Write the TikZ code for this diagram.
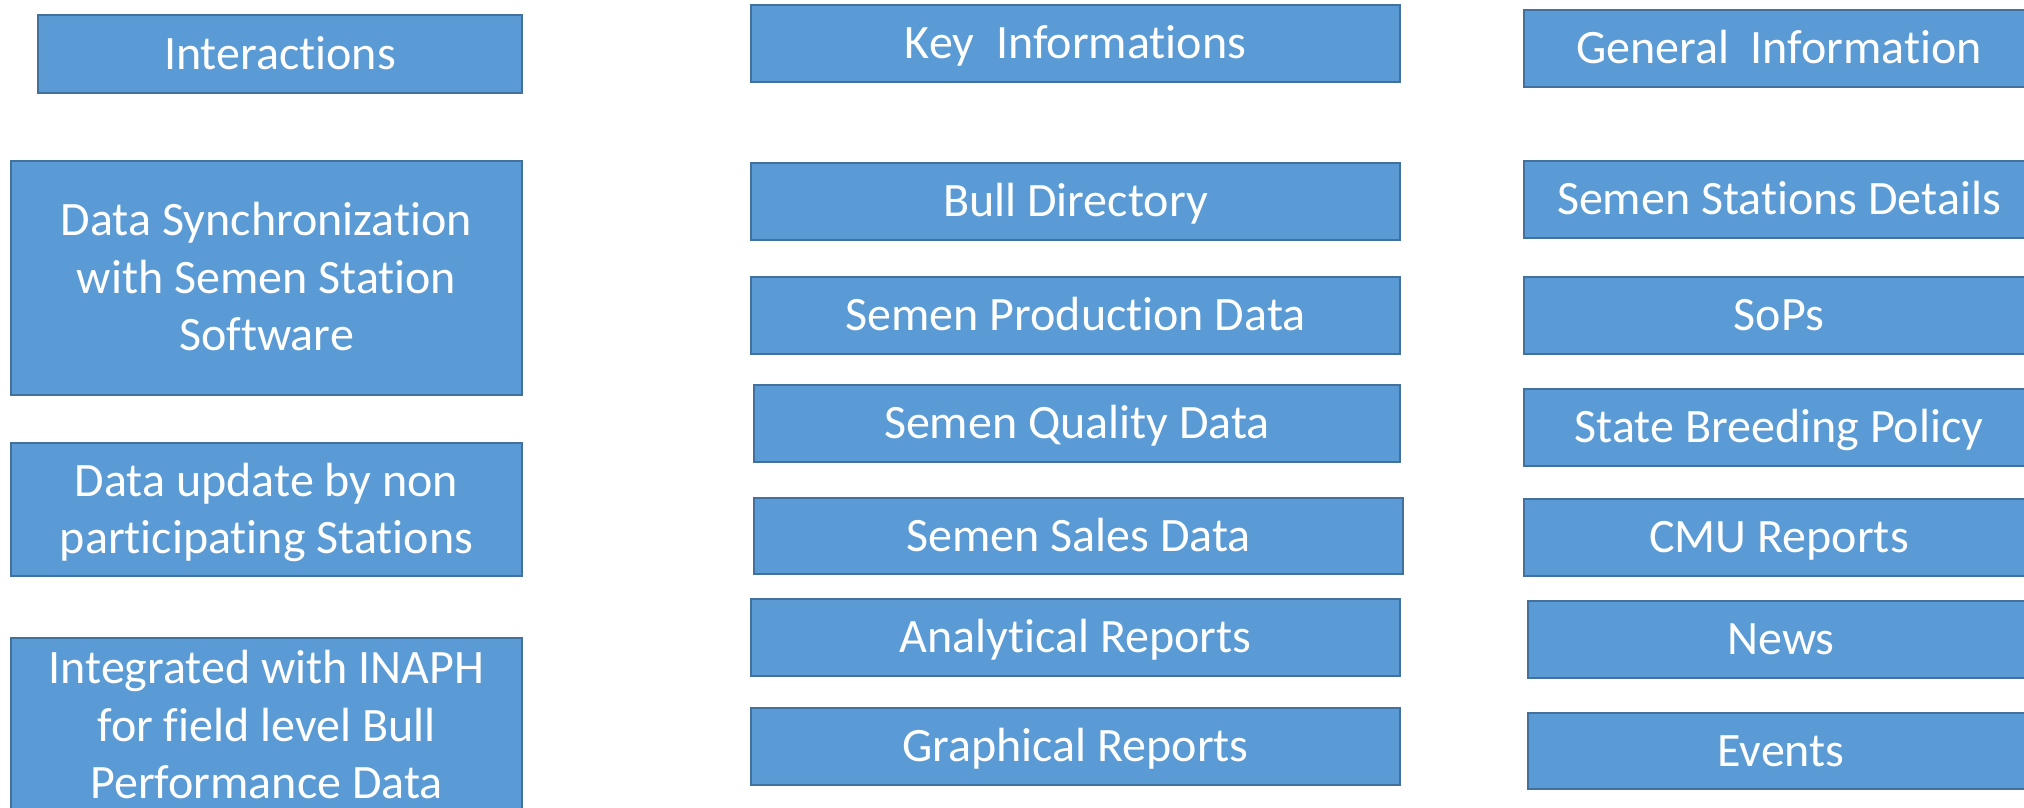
\documentclass[tikz,border=0pt]{standalone}
\usepackage{fontspec}
\setmainfont{Carlito}[Ligatures={NoCommon}]
\definecolor{boxfill}{HTML}{5B9BD5}
\definecolor{boxline}{HTML}{41719C}
\tikzset{
  box/.style={draw=boxline, line width=2.5pt, fill=boxfill, rectangle, inner sep=0pt,
    text=white, text height=30.5pt, text depth=0pt,
    font=\fontsize{48}{57.5}\selectfont},
  two/.style={text depth=57.5pt},
  three/.style={text depth=115pt},
}
\newcommand{\mlines}[1]{\begin{tabular}[t]{@{}c@{}}#1\end{tabular}}
\begin{document}
\begin{tikzpicture}[x=1pt,y=-1pt]
\useasboundingbox (0,0) rectangle (2024,807);
\clip (0,0) rectangle (2024,807);
\fill[white] (0,0) rectangle (2024,807);
% left column
\node[box, minimum width=484pt, minimum height=78pt] (inter) at (280,54) {Interactions};
\node[box, three, minimum width=511pt, minimum height=234pt] (sync) at (266.5,278)
  {\mlines{Data Synchronization\\with Semen Station\\Software}};
\node[box, two, minimum width=511pt, minimum height=133pt] (upd) at (266.5,509.5)
  {\mlines{Data update by non\\participating Stations}};
\node[box, three, minimum width=511pt, minimum height=176pt] (inaph) at (266.5,725.75)
  {\mlines{Integrated with INAPH\\for field level Bull\\Performance Data}};
% middle column
\node[box, minimum width=649pt, minimum height=77pt] (key) at (1075.5,43.5) {Key~~Informations};
\node[box, minimum width=649pt, minimum height=77pt] (bull) at (1075.5,201.5) {Bull Directory};
\node[box, minimum width=649pt, minimum height=77pt] (prod) at (1075.5,315.5) {Semen Production Data};
\node[box, minimum width=646pt, minimum height=77pt] (qual) at (1077,423.5) {Semen Quality Data};
\node[box, minimum width=649pt, minimum height=76pt] (sales) at (1078.5,536) {Semen Sales Data};
\node[box, minimum width=649pt, minimum height=77pt] (anal) at (1075.5,637.5) {Analytical Reports};
\node[box, minimum width=649pt, minimum height=77pt] (graph) at (1075.5,746.5) {Graphical Reports};
% right column
\node[box, minimum width=510pt, minimum height=77pt] (gen) at (1779,48.5) {General~~Information};
\node[box, minimum width=510pt, minimum height=77pt] (ssd) at (1779,199.5) {Semen Stations Details};
\node[box, minimum width=510pt, minimum height=77pt] (sops) at (1779,315.5) {SoPs};
\node[box, minimum width=510pt, minimum height=77pt] (sbp) at (1779,427.5) {State Breeding Policy};
\node[box, minimum width=510pt, minimum height=77pt] (cmu) at (1779,537.5) {CMU Reports};
\node[box, minimum width=506pt, minimum height=77pt] (news) at (1781,639.5) {News};
\node[box, minimum width=506pt, minimum height=76pt] (events) at (1781,751) {Events};
\end{tikzpicture}
\end{document}
